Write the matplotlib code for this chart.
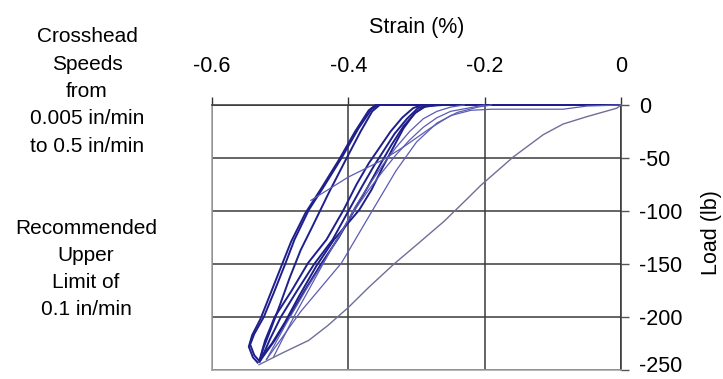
import matplotlib
matplotlib.use("Agg")
import matplotlib.pyplot as plt
from matplotlib.transforms import ScaledTranslation

plt.rcParams['font.family'] = ['Liberation Sans', 'DejaVu Sans']

# strain (%) / load (lb)
loopA1_strain = [0, -0.356, -0.366, -0.385, -0.41, -0.435, -0.458, -0.479, -0.492, -0.508, -0.524, -0.538, -0.544, -0.538, -0.53]
loopA1_load = [0, 0, -4, -22, -50, -76, -99, -127, -149, -175, -200, -216, -226, -236, -242]
loopA2_strain = [-0.53, -0.525, -0.514, -0.5, -0.486, -0.47, -0.453, -0.428, -0.404, -0.382, -0.365, -0.354, 0]
loopA2_load = [-242, -230, -212, -188, -163, -137, -115, -82, -52, -25, -6, 0, 0]
loopA3_strain = [0, -0.36, -0.37, -0.39, -0.414, -0.44, -0.463, -0.484, -0.497, -0.513, -0.529, -0.541, -0.546, -0.54, -0.533]
loopA3_load = [0, 0, -5, -25, -52, -79, -102, -129, -150, -176, -202, -217, -228, -238, -243]

loopB1_strain = [0, -0.292, -0.305, -0.321, -0.338, -0.354, -0.37, -0.388, -0.407, -0.432, -0.459, -0.483, -0.508, -0.522, -0.53]
loopB1_load = [0, 0, -3, -12, -25, -40, -55, -75, -99, -127, -149, -175, -200, -222, -240]
loopB2_strain = [-0.53, -0.512, -0.493, -0.472, -0.447, -0.421, -0.384, -0.366, -0.349, -0.334, -0.319, -0.303, -0.29, -0.27, 0]
loopB2_load = [-240, -225, -205, -180, -152, -127, -99, -80, -58, -40, -22, -8, -2, 0, 0]
loopB3_strain = [0, -0.283, -0.298, -0.314, -0.332, -0.347, -0.362, -0.38, -0.399, -0.423, -0.45, -0.475, -0.499, -0.515, -0.528]
loopB3_load = [0, 0, -3, -13, -27, -42, -57, -77, -99, -127, -150, -175, -200, -221, -240]
loopB4_strain = [-0.528, -0.508, -0.487, -0.464, -0.44, -0.414, -0.391, -0.372, -0.354, -0.337, -0.319, -0.301, -0.286, -0.26, 0]
loopB4_load = [-240, -222, -200, -175, -150, -125, -99, -78, -57, -38, -20, -7, -1, 0, 0]

thin1_strain = [-0.52, -0.49, -0.46, -0.435, -0.41, -0.39, -0.37, -0.35, -0.33, -0.31, -0.29, -0.27, -0.25, -0.23]
thin1_load = [-240, -205, -172, -147, -120, -96, -76, -57, -40, -25, -13, -6, -2, 0]
thin2_strain = [-0.51, -0.48, -0.45, -0.42, -0.395, -0.37, -0.35, -0.33, -0.31, -0.29, -0.27, -0.25, -0.225, -0.20]
thin2_load = [-238, -200, -165, -130, -103, -80, -63, -47, -33, -21, -12, -6, -3, 0]
thin3_strain = [-0.52, -0.47, -0.41, -0.366, -0.33, -0.30, -0.27, -0.24, -0.21, -0.19]
thin3_load = [-240, -195, -149, -101, -62, -35, -17, -7, -2, 0]
cross_strain = [-0.455, -0.40, -0.35, -0.32, -0.28, -0.25, -0.22, -0.19, -0.085, -0.05, 0]
cross_load = [-90, -68, -52, -40, -22, -10, -5, -4, -4, -1, 0]

gray_strain = [0, -0.006, -0.05, -0.085, -0.114, -0.158, -0.206, -0.228, -0.26, -0.30, -0.333, -0.37, -0.40, -0.43, -0.458, -0.497, -0.531]
gray_load = [0, -3, -11, -18, -28, -49, -76, -90, -110, -132, -150, -172, -191, -208, -222, -234, -245]

x_ticks = [-0.6, -0.4, -0.2, 0]
x_labels = ["-0.6", "-0.4", "-0.2", "0"]
y_ticks = [0, -50, -100, -150, -200, -250]
y_labels = ["0", "-50", "-100", "-150", "-200", "-250"]

note1 = ["Crosshead", "Speeds", "from", "0.005 in/min", "to 0.5 in/min"]
note2 = ["Recommended", "Upper", "Limit of", "0.1 in/min"]

fig = plt.figure(figsize=(7.23, 3.79), dpi=100)
ax = fig.add_axes([0.2932, 0.0237, 0.5657, 0.6993])

navy = "#1f1f8c"
light = "#5c5cb4"
grayblue = "#6e6e98"

for xs, ys in [(loopA1_strain, loopA1_load), (loopA2_strain, loopA2_load), (loopA3_strain, loopA3_load),
               (loopB1_strain, loopB1_load), (loopB2_strain, loopB2_load),
               (loopB3_strain, loopB3_load), (loopB4_strain, loopB4_load)]:
    ax.plot(xs, ys, color=navy, lw=1.4, clip_on=False, zorder=3)
for xs, ys in [(thin1_strain, thin1_load), (thin2_strain, thin2_load), (thin3_strain, thin3_load),
               (cross_strain, cross_load)]:
    ax.plot(xs, ys, color=light, lw=0.9, clip_on=False, zorder=3)
ax.plot(gray_strain, gray_load, color=grayblue, lw=1.0, clip_on=False, zorder=3)

ax.set_xlim(-0.6, 0)
ax.set_ylim(-250, 0)
ax.set_xticks(x_ticks)
ax.set_xticklabels(x_labels)
ax.set_yticks(y_ticks)
ax.set_yticklabels(y_labels)
ax.xaxis.tick_top()
ax.yaxis.tick_right()
ax.tick_params(axis="x", direction="out", length=6, width=1, color="#333333", pad=14, labelsize=15.5)
ax.tick_params(axis="y", direction="out", length=6, width=1, color="#555555", pad=7, labelsize=15.5)

# keep the bottom label inside the picture
last = ax.get_yticklabels()[-1]
last.set_transform(last.get_transform() + ScaledTranslation(0, 4 / 72, fig.dpi_scale_trans))

ax.grid(True, color="#3a3a3a", lw=1.1)
ax.set_axisbelow(True)
for side in ["top", "right"]:
    ax.spines[side].set_color("#333333")
    ax.spines[side].set_linewidth(1.1)
for side in ["left", "bottom"]:
    ax.spines[side].set_color("#a0a0a0")
    ax.spines[side].set_linewidth(1.1)

fig.text(417 / 723, 1 - 28 / 379, "Strain (%)", ha="center", va="center", fontsize=15.5)
fig.text(712 / 723, 1 - 233 / 379, "Load (lb)", ha="center", va="center", rotation=90, fontsize=15.5)

for i, line in enumerate(note1):
    fig.text(87 / 723, 1 - (37 + 27.3 * i) / 379, line, ha="center", va="center", fontsize=15)
for i, line in enumerate(note2):
    fig.text(86 / 723, 1 - (228 + 27.3 * i) / 379, line, ha="center", va="center", fontsize=15)

fig.savefig("out.png", dpi=100)
